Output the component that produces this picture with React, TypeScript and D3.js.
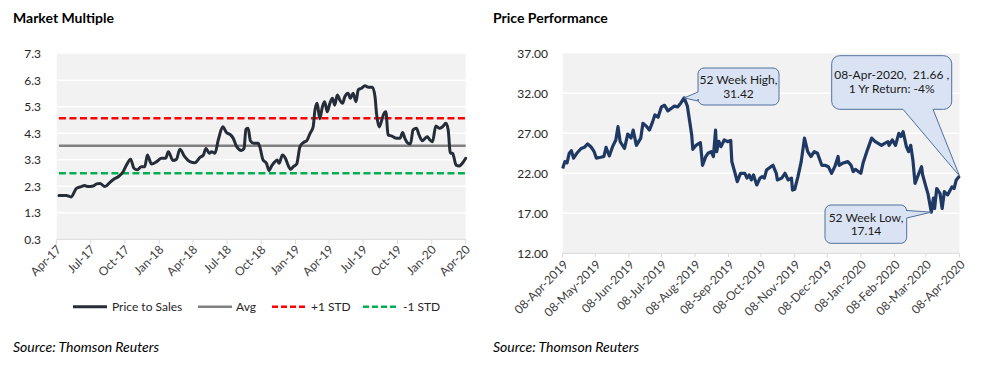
import React from "react";
import * as d3 from "d3";

// ---------- DATA ----------
const priceToSales: [string, number][] = [
  ["2017-04-07", 1.95], ["2017-04-27", 1.95], ["2017-05-09", 1.9], ["2017-05-24", 2.22],
  ["2017-06-06", 2.29], ["2017-06-15", 2.33], ["2017-06-24", 2.29], ["2017-07-08", 2.31],
  ["2017-07-17", 2.39], ["2017-07-26", 2.41], ["2017-08-08", 2.29], ["2017-08-21", 2.44],
  ["2017-08-31", 2.56], ["2017-09-13", 2.66], ["2017-09-26", 2.85], ["2017-10-05", 3.1],
  ["2017-10-16", 3.32], ["2017-10-25", 2.98], ["2017-11-03", 2.92], ["2017-11-14", 3.04],
  ["2017-11-23", 3.04], ["2017-11-30", 3.48], ["2017-12-11", 3.14], ["2017-12-25", 3.23],
  ["2018-01-07", 3.36], ["2018-01-18", 3.36], ["2018-01-25", 3.6], ["2018-02-07", 3.27],
  ["2018-02-16", 3.32], ["2018-02-25", 3.7], ["2018-03-10", 3.42], ["2018-03-24", 3.23],
  ["2018-04-06", 3.19], ["2018-04-20", 3.39], ["2018-04-29", 3.48], ["2018-05-06", 3.73],
  ["2018-05-15", 3.55], ["2018-05-21", 3.6], ["2018-05-30", 3.55], ["2018-06-08", 4.05],
  ["2018-06-20", 4.55], ["2018-06-30", 4.33], ["2018-07-11", 4.24], ["2018-07-18", 4.11],
  ["2018-07-27", 3.8], ["2018-08-09", 3.65], ["2018-08-16", 3.73], ["2018-08-21", 4.45],
  ["2018-08-27", 4.49], ["2018-09-02", 4.02], ["2018-09-11", 3.92], ["2018-09-23", 3.92],
  ["2018-09-27", 3.8], ["2018-10-06", 3.29], ["2018-10-15", 3.17], ["2018-10-22", 2.89],
  ["2018-10-29", 3.07], ["2018-11-07", 3.23], ["2018-11-13", 3.29], ["2018-11-18", 3.17],
  ["2018-11-27", 3.48], ["2018-12-06", 3.32], ["2018-12-12", 3.1], ["2018-12-19", 2.94],
  ["2018-12-26", 3.04], ["2019-01-04", 3.14], ["2019-01-13", 3.8], ["2019-01-22", 3.95],
  ["2019-01-31", 4.02], ["2019-02-09", 4.3], ["2019-02-17", 4.53], ["2019-02-22", 5.17],
  ["2019-02-28", 5.43], ["2019-03-07", 4.85], ["2019-03-14", 5.3], ["2019-03-20", 5.49],
  ["2019-03-27", 5.11], ["2019-04-03", 5.43], ["2019-04-10", 5.62], ["2019-04-16", 5.36],
  ["2019-04-23", 5.75], ["2019-04-30", 5.55], ["2019-05-07", 5.43], ["2019-05-13", 5.68],
  ["2019-05-22", 5.81], ["2019-05-28", 5.62], ["2019-06-04", 5.81], ["2019-06-12", 5.49],
  ["2019-06-18", 5.94], ["2019-06-27", 6.0], ["2019-07-06", 6.09], ["2019-07-15", 6.04],
  ["2019-07-26", 6.04], ["2019-08-02", 5.68], ["2019-08-06", 5.05], ["2019-08-13", 4.54],
  ["2019-08-20", 4.79], ["2019-08-24", 4.98], ["2019-08-31", 5.11], ["2019-09-06", 4.24],
  ["2019-09-15", 4.2], ["2019-09-29", 4.11], ["2019-10-08", 4.11], ["2019-10-15", 4.33],
  ["2019-10-21", 4.11], ["2019-10-30", 3.92], ["2019-11-05", 3.9], ["2019-11-12", 4.43],
  ["2019-11-21", 4.49], ["2019-11-28", 4.24], ["2019-12-07", 4.02], ["2019-12-14", 4.11],
  ["2019-12-20", 4.17], ["2019-12-27", 4.05], ["2020-01-03", 3.98], ["2020-01-12", 4.58],
  ["2020-01-21", 4.49], ["2020-01-30", 4.55], ["2020-02-08", 4.68], ["2020-02-14", 4.43],
  ["2020-02-20", 3.55], ["2020-02-26", 3.55], ["2020-02-29", 3.42], ["2020-03-06", 3.1],
  ["2020-03-15", 3.07], ["2020-03-24", 3.19], ["2020-04-01", 3.36],
];
const multipleAvg = 3.83;
const multipleStd = 1.04;
const multipleTicks = [0.3, 1.3, 2.3, 3.3, 4.3, 5.3, 6.3, 7.3];
const multipleLegend = ["Price to Sales", "Avg", "+1 STD", "-1 STD"];

const stockPrice: [string, number][] = [
  ["2019-04-08", 22.6], ["2019-04-10", 23.46], ["2019-04-12", 23.3], ["2019-04-14", 24.5],
  ["2019-04-16", 24.83], ["2019-04-18", 23.9], ["2019-04-21", 24.5], ["2019-04-25", 25.1],
  ["2019-04-28", 25.25], ["2019-05-01", 25.67], ["2019-05-04", 25.33], ["2019-05-07", 24.7],
  ["2019-05-09", 23.9], ["2019-05-13", 24.0], ["2019-05-16", 24.1], ["2019-05-18", 25.25],
  ["2019-05-21", 24.17], ["2019-05-24", 25.33], ["2019-05-27", 26.17], ["2019-05-29", 27.83],
  ["2019-05-31", 25.96], ["2019-06-04", 25.1], ["2019-06-07", 26.9], ["2019-06-10", 26.4],
  ["2019-06-12", 27.4], ["2019-06-15", 25.5], ["2019-06-19", 26.4], ["2019-06-21", 28.25],
  ["2019-06-24", 27.9], ["2019-06-27", 27.4], ["2019-06-30", 28.46], ["2019-07-02", 29.3],
  ["2019-07-05", 29.0], ["2019-07-08", 30.3], ["2019-07-11", 30.5], ["2019-07-14", 29.8],
  ["2019-07-17", 30.1], ["2019-07-20", 30.4], ["2019-07-23", 30.3], ["2019-07-26", 30.8],
  ["2019-07-29", 31.42], ["2019-08-01", 30.4], ["2019-08-03", 28.6], ["2019-08-05", 26.8],
  ["2019-08-06", 25.0], ["2019-08-09", 25.5], ["2019-08-11", 25.67], ["2019-08-13", 25.83],
  ["2019-08-15", 23.0], ["2019-08-18", 24.1], ["2019-08-20", 24.5], ["2019-08-23", 24.7],
  ["2019-08-25", 24.1], ["2019-08-27", 27.4], ["2019-08-28", 24.7], ["2019-08-30", 26.0],
  ["2019-09-01", 25.33], ["2019-09-04", 26.17], ["2019-09-07", 25.96], ["2019-09-10", 26.1],
  ["2019-09-11", 23.46], ["2019-09-14", 22.0], ["2019-09-16", 20.96], ["2019-09-19", 22.0],
  ["2019-09-23", 22.0], ["2019-09-25", 21.4], ["2019-09-27", 21.8], ["2019-09-29", 21.17],
  ["2019-10-01", 21.8], ["2019-10-04", 20.54], ["2019-10-07", 21.4], ["2019-10-09", 21.58],
  ["2019-10-11", 21.4], ["2019-10-13", 22.4], ["2019-10-17", 22.83], ["2019-10-19", 23.0],
  ["2019-10-22", 22.0], ["2019-10-23", 21.17], ["2019-10-27", 21.4], ["2019-10-30", 22.0],
  ["2019-11-02", 21.17], ["2019-11-05", 21.4], ["2019-11-06", 19.9], ["2019-11-08", 20.0],
  ["2019-11-11", 21.58], ["2019-11-14", 23.46], ["2019-11-17", 26.4], ["2019-11-20", 24.7],
  ["2019-11-23", 24.1], ["2019-11-26", 24.7], ["2019-11-29", 24.5], ["2019-12-03", 23.0],
  ["2019-12-06", 23.0], ["2019-12-09", 22.83], ["2019-12-12", 22.0], ["2019-12-15", 22.83],
  ["2019-12-18", 24.1], ["2019-12-19", 23.0], ["2019-12-22", 23.25], ["2019-12-27", 23.46],
  ["2019-12-30", 23.0], ["2020-01-01", 22.2], ["2020-01-03", 22.5], ["2020-01-06", 22.2],
  ["2020-01-08", 22.0], ["2020-01-10", 23.25], ["2020-01-14", 24.9], ["2020-01-18", 26.4],
  ["2020-01-21", 26.0], ["2020-01-24", 25.75], ["2020-01-27", 25.5], ["2020-01-30", 25.75],
  ["2020-02-02", 25.96], ["2020-02-03", 25.5], ["2020-02-06", 26.17], ["2020-02-09", 25.5],
  ["2020-02-12", 27.0], ["2020-02-14", 26.6], ["2020-02-16", 27.2], ["2020-02-19", 25.33],
  ["2020-02-21", 24.7], ["2020-02-23", 25.5], ["2020-02-25", 23.67], ["2020-02-27", 20.75],
  ["2020-03-01", 21.8], ["2020-03-04", 22.83], ["2020-03-05", 21.8], ["2020-03-08", 20.33],
  ["2020-03-10", 19.4], ["2020-03-13", 17.14], ["2020-03-15", 18.9], ["2020-03-16", 17.6],
  ["2020-03-18", 20.1], ["2020-03-21", 19.5], ["2020-03-23", 17.6], ["2020-03-25", 19.7],
  ["2020-03-28", 19.3], ["2020-04-01", 20.3], ["2020-04-03", 20.1], ["2020-04-05", 21.17],
  ["2020-04-08", 21.66],
];
const priceTicks = [12, 17, 22, 27, 32, 37];
const highLabel = ["52 Week High,", "31.42"];
const lowLabel = ["52 Week Low,", "17.14"];
const lastLabel = ["08-Apr-2020,  21.66 ,", "1 Yr Return: -4%"];
const sourceText = "Source: Thomson Reuters";

// ---------- HELPERS ----------
const parse = d3.timeParse("%Y-%m-%d");
const FONT = "Lato, 'Open Sans', sans-serif";

function calloutPath(
  x0: number, y0: number, x1: number, y1: number, r: number,
  side: "left" | "right" | "bottom", a: number, b: number, tx: number, ty: number
) {
  let p = `M${x0 + r},${y0} L${x1 - r},${y0} A${r},${r} 0 0 1 ${x1},${y0 + r} `;
  if (side === "right") p += `L${x1},${a} L${tx},${ty} L${x1},${b} `;
  p += `L${x1},${y1 - r} A${r},${r} 0 0 1 ${x1 - r},${y1} `;
  if (side === "bottom") p += `L${b},${y1} L${tx},${ty} L${a},${y1} `;
  p += `L${x0 + r},${y1} A${r},${r} 0 0 1 ${x0},${y1 - r} `;
  if (side === "left") p += `L${x0},${b} L${tx},${ty} L${x0},${a} `;
  p += `L${x0},${y0 + r} A${r},${r} 0 0 1 ${x0 + r},${y0} Z`;
  return p;
}

export default function App() {
  // Left chart
  const lData = priceToSales.map(([d, v]) => ({ date: parse(d)!, value: v }));
  const xL = d3.scaleTime().domain([parse("2017-04-01")!, parse("2020-04-01")!]).range([56.7, 465.7]);
  const yL = d3.scaleLinear().domain([0.3, 7.3]).range([239.3, 53.8]);
  const lineL = d3.line<{ date: Date; value: number }>()
    .x((d) => xL(d.date)).y((d) => yL(d.value)).curve(d3.curveMonotoneX);
  const lTicks = d3.timeMonth.range(parse("2017-04-01")!, parse("2020-04-02")!, 3);
  const fmtL = d3.timeFormat("%b-%y");
  const lx0 = xL(lData[0].date);
  const lx1 = xL(lData[lData.length - 1].date);

  // Right chart
  const rData = stockPrice.map(([d, v]) => ({ date: parse(d)!, value: v }));
  const rStart = parse("2019-04-08")!;
  const rEnd = parse("2020-04-08")!;
  const xR = d3.scaleTime().domain([rStart, rEnd]).range([562.7, 959.5]);
  const yR = d3.scaleLinear().domain([12, 37]).range([253.3, 53.3]);
  const lineR = d3.line<{ date: Date; value: number }>()
    .x((d) => xR(d.date)).y((d) => yR(d.value));
  const rTicks = d3.range(0, 13).map((i) => d3.timeMonth.offset(rStart, i));
  const fmtR = d3.timeFormat("%d-%b-%Y");
  const hi = rData.reduce((a, b) => (b.value > a.value ? b : a));
  const lo = rData.reduce((a, b) => (b.value < a.value ? b : a));
  const last = rData[rData.length - 1];
  const hx = xR(hi.date), hy = yR(hi.value);
  const lox = xR(lo.date), loy = yR(lo.value);
  const lax = xR(last.date), lay = yR(last.value);

  const legendStyles = [
    { color: "#262d38", dash: "none", w: 3, x1: 73, x2: 107, tx: 112 },
    { color: "#808080", dash: "none", w: 2.5, x1: 198, x2: 232, tx: 236 },
    { color: "#ff0000", dash: "6,3", w: 2.5, x1: 272, x2: 306, tx: 311 },
    { color: "#00b050", dash: "6,3", w: 2.5, x1: 363, x2: 398, tx: 403 },
  ];

  const calloutFill = "#dae3f3";
  const calloutStroke = "#50709c";

  return (
    <svg width={994} height={367} style={{ position: "absolute", left: 0, top: 0, background: "#fff" }}
      fontFamily={FONT}>
      {/* ===== LEFT: Market Multiple ===== */}
      <text x={13} y={22.5} fontSize={14} fontWeight="bold" fill="#000">Market Multiple</text>
      <rect x={xL.range()[0]} y={yL(7.3)} width={xL.range()[1] - xL.range()[0]} height={yL(0.3) - yL(7.3)} fill="#f2f2f2" />
      {multipleTicks.slice(1, -1).map((t) => (
        <line key={t} x1={xL.range()[0]} x2={xL.range()[1]} y1={yL(t)} y2={yL(t)} stroke="#fff" strokeWidth={1.5} />
      ))}
      <line x1={xL.range()[0]} x2={xL.range()[1]} y1={yL(0.3)} y2={yL(0.3)} stroke="#d9d9d9" strokeWidth={1} />
      {lTicks.map((t, i) => (
        <g key={i}>
          <line x1={xL(t)} x2={xL(t)} y1={yL(0.3)} y2={yL(0.3) + 5} stroke="#d9d9d9" />
          <text transform={`translate(${xL(t) + 3},${yL(0.3) + 9}) rotate(-45)`} textAnchor="end"
            fontSize={12} fill="#404040" dominantBaseline="middle">{fmtL(t)}</text>
        </g>
      ))}
      {multipleTicks.map((t) => (
        <text key={t} x={41} y={yL(t)} dy="0.35em" textAnchor="end" fontSize={12} fill="#262626">
          {d3.format(".1f")(t)}
        </text>
      ))}
      <line x1={lx0} x2={lx1} y1={yL(multipleAvg)} y2={yL(multipleAvg)} stroke="#808080" strokeWidth={2.5} />
      <line x1={lx0} x2={lx1} y1={yL(multipleAvg + multipleStd)} y2={yL(multipleAvg + multipleStd)}
        stroke="#ff0000" strokeWidth={2.5} strokeDasharray="7,3.5" />
      <line x1={lx0} x2={lx1} y1={yL(multipleAvg - multipleStd)} y2={yL(multipleAvg - multipleStd)}
        stroke="#00b050" strokeWidth={2.5} strokeDasharray="7,3.5" />
      <path d={lineL(lData) || ""} fill="none" stroke="#262d38" strokeWidth={3} strokeLinejoin="round" strokeLinecap="round" />
      {multipleLegend.map((label, i) => {
        const s = legendStyles[i];
        return (
          <g key={label}>
            <line x1={s.x1} x2={s.x2} y1={306.7} y2={306.7} stroke={s.color} strokeWidth={s.w}
              strokeDasharray={s.dash} />
            <text x={s.tx} y={306.7} dy="0.35em" fontSize={12} fill="#262626">{label}</text>
          </g>
        );
      })}
      <text x={13} y={352} fontSize={14} fontStyle="italic" fill="#000">{sourceText}</text>

      {/* ===== RIGHT: Price Performance ===== */}
      <text x={493} y={22.5} fontSize={14} fontWeight="bold" fill="#000">Price Performance</text>
      <rect x={xR.range()[0]} y={yR(37)} width={xR.range()[1] - xR.range()[0]} height={yR(12) - yR(37)} fill="#f2f2f2" />
      {priceTicks.slice(1, -1).map((t) => (
        <line key={t} x1={xR.range()[0]} x2={xR.range()[1]} y1={yR(t)} y2={yR(t)} stroke="#fff" strokeWidth={1.5} />
      ))}
      <line x1={xR.range()[0]} x2={xR.range()[1]} y1={yR(12)} y2={yR(12)} stroke="#d9d9d9" />
      {rTicks.map((t, i) => (
        <g key={i}>
          <line x1={xR(t)} x2={xR(t)} y1={yR(12)} y2={yR(12) + 4} stroke="#d9d9d9" />
          <text transform={`translate(${xR(t) + 4},${yR(12) + 10}) rotate(-45)`} textAnchor="end"
            fontSize={12} fill="#404040" dominantBaseline="middle">{fmtR(t)}</text>
        </g>
      ))}
      {priceTicks.map((t) => (
        <text key={t} x={548} y={yR(t)} dy="0.35em" textAnchor="end" fontSize={12} fill="#262626">
          {d3.format(".2f")(t)}
        </text>
      ))}
      <path d={lineR(rData) || ""} fill="none" stroke="#1f3864" strokeWidth={3.2} strokeLinejoin="round" />

      {/* callouts */}
      <path d={calloutPath(698, 68, 779, 105, 6, "left", 92, 101, hx, hy)} fill={calloutFill} stroke={calloutStroke} strokeWidth={1} />
      {highLabel.map((t, i) => (
        <text key={i} x={738.5} y={84 + i * 13.5} textAnchor="middle" fontSize={12} fill="#1a1a1a">{t}</text>
      ))}
      <path d={calloutPath(831.7, 55.7, 951.7, 109.3, 8, "bottom", 903, 933, lax, lay)} fill={calloutFill} stroke={calloutStroke} strokeWidth={1} />
      {lastLabel.map((t, i) => (
        <text key={i} x={891.7} y={79 + i * 14} textAnchor="middle" fontSize={12} fill="#1a1a1a"
          style={{ whiteSpace: "pre" }}>{t}</text>
      ))}
      <path d={calloutPath(825, 205, 906.7, 243.3, 6, "right", 210.5, 218, lox, loy)} fill={calloutFill} stroke={calloutStroke} strokeWidth={1} />
      {lowLabel.map((t, i) => (
        <text key={i} x={866} y={221.5 + i * 13.5} textAnchor="middle" fontSize={12} fill="#1a1a1a">{t}</text>
      ))}

      <text x={493} y={352} fontSize={14} fontStyle="italic" fill="#000">{sourceText}</text>
    </svg>
  );
}
